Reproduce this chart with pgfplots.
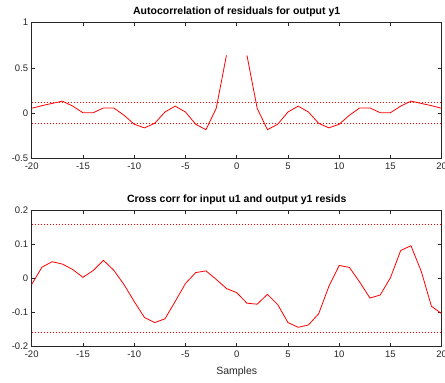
\documentclass[border=0pt]{standalone}
\usepackage{pgfplots}
\pgfplotsset{compat=1.18}
\usepackage{fontspec}
\setmainfont{Liberation Sans}
\definecolor{tickgray}{RGB}{38,38,38}
\pgfplotsset{
  resid/.style={
    scale only axis,
    width=410pt, height=136pt,
    anchor=south west,
    xmin=-20, xmax=20,
    xtick={-20,-15,...,20},
    tick align=inside,
    major tick length=3.5pt,
    axis line style={tickgray, line width=0.7pt},
    every tick/.style={tickgray, line width=0.7pt},
    ticklabel style={font=\fontsize{9.5}{11}\selectfont, text=tickgray},
    xticklabel style={yshift=-1pt},
    /pgf/number format/assume math mode=true,
    /pgf/number format/fixed,
    title style={font=\fontsize{10.5}{12}\selectfont\bfseries, at={(0.5,1)}, anchor=south, yshift=-4pt},
    xlabel style={font=\fontsize{10.5}{12}\selectfont, text=tickgray},
    clip=true,
  },
  resline/.style={color=red, line width=0.8pt, mark=none},
  confline/.style={color=red, line width=1pt, dash pattern=on 1.3pt off 1.7pt, mark=none},
}
\begin{document}
\begin{tikzpicture}
\path[use as bounding box] (0,0) rectangle (445pt,383pt);
\begin{axis}[resid, at={(31.7pt,224.3pt)},
  ymin=-0.5, ymax=1, ytick={-0.5,0,0.5,1},
  yticklabels={-0.5,0,0.5,1},
  title={Autocorrelation of residuals for output y1}]
\addplot[resline] coordinates {
(-20,0.056) (-19,0.085) (-18,0.11) (-17,0.135) (-16,0.08) (-15,0.007) (-14,0.007)
(-13,0.06) (-12,0.06) (-11,-0.02) (-10,-0.12) (-9,-0.16) (-8,-0.11) (-7,0.015)
(-6,0.08) (-5,0.015) (-4,-0.12) (-3,-0.18) (-2,0.055) (-1,0.64)};
\addplot[resline] coordinates {
(1,0.64) (2,0.055) (3,-0.18) (4,-0.12) (5,0.015) (6,0.08) (7,0.015) (8,-0.11)
(9,-0.16) (10,-0.12) (11,-0.02) (12,0.06) (13,0.06) (14,0.007) (15,0.007)
(16,0.08) (17,0.135) (18,0.11) (19,0.085) (20,0.056)};
\addplot[confline] coordinates {(-20,0.117) (20,0.117)};
\addplot[confline] coordinates {(-20,-0.117) (20,-0.117)};
\end{axis}
\begin{axis}[resid, at={(31.7pt,36.3pt)},
  ymin=-0.2, ymax=0.2, ytick={-0.2,-0.1,0,0.1,0.2},
  yticklabels={-0.2,-0.1,0,0.1,0.2},
  xlabel={Samples}, xlabel style={yshift=-2pt},
  title={Cross corr for input u1 and output y1 resids}]
\addplot[resline] coordinates {
(-20,-0.017) (-19,0.034) (-18,0.05) (-17,0.043) (-16,0.027) (-15,0.004) (-14,0.024)
(-13,0.054) (-12,0.025) (-11,-0.017) (-10,-0.067) (-9,-0.114) (-8,-0.129) (-7,-0.118)
(-6,-0.067) (-5,-0.014) (-4,0.018) (-3,0.023) (-2,-0.002) (-1,-0.029) (0,-0.041)
(1,-0.072) (2,-0.075) (3,-0.046) (4,-0.076) (5,-0.129) (6,-0.143) (7,-0.136)
(8,-0.103) (9,-0.022) (10,0.039) (11,0.033) (12,-0.01) (13,-0.057) (14,-0.048)
(15,0.003) (16,0.083) (17,0.097) (18,0.022) (19,-0.081) (20,-0.103)};
\addplot[confline] coordinates {(-20,0.158) (20,0.158)};
\addplot[confline] coordinates {(-20,-0.158) (20,-0.158)};
\end{axis}
\end{tikzpicture}
\end{document}
